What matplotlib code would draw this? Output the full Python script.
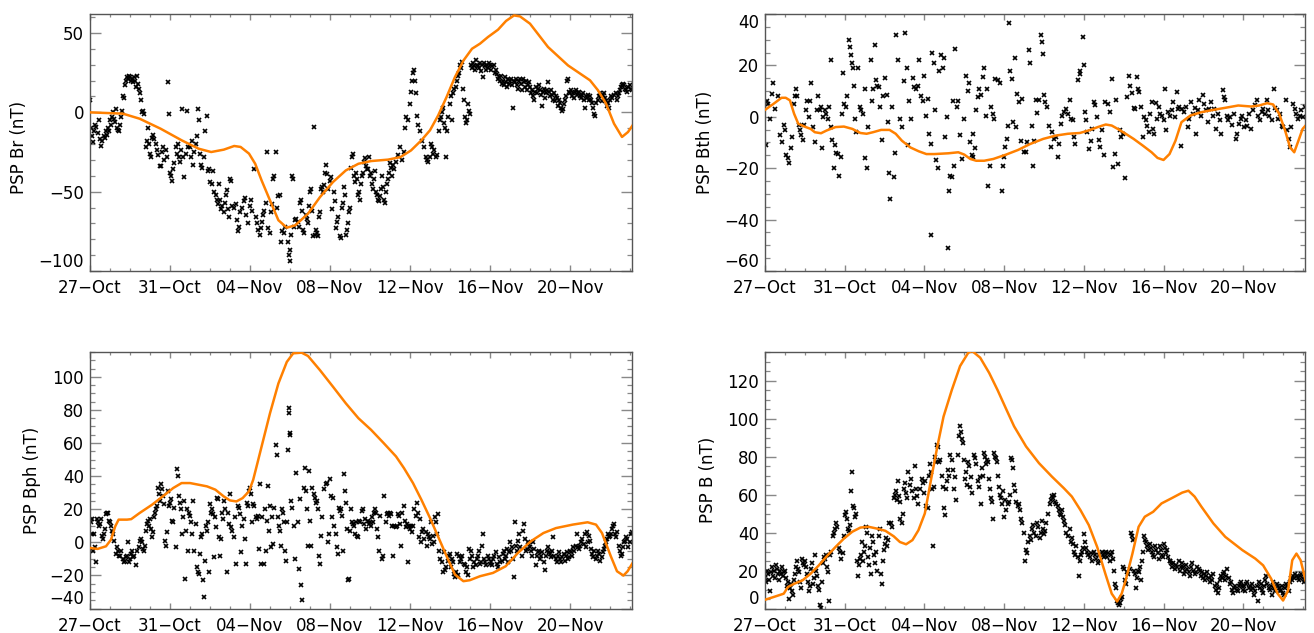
import matplotlib
matplotlib.use("Agg")
import matplotlib.pyplot as plt
from matplotlib.ticker import MultipleLocator, FixedLocator

# ---------------- data (days since 27-Oct 00:00) ----------------
xtick_days = [0, 4, 8, 12, 16, 20, 24]
xtick_labels = ["27\u2212Oct", "31\u2212Oct", "04\u2212Nov", "08\u2212Nov",
                "12\u2212Nov", "16\u2212Nov", "20\u2212Nov"]
x_range = (0.0, 27.1)

# ---- PSP Br ----
br_obs = [
    (0.02, 8), (0.05, -10), (0.1, -15), (0.15, -19), (0.2, -12), (0.25, -8), (0.3, -9), (0.4, -13),
    (0.45, -5), (0.5, -17), (0.55, -21), (0.6, -18), (0.7, -15), (0.75, -16), (0.8, -12), (0.85, -14),
    (0.9, -10), (0.95, -12), (1.0, -5), (1.05, -8), (1.1, -3), (1.15, 0), (1.2, -4), (1.25, -6),
    (1.3, 2), (1.35, -10), (1.4, -11), (1.45, -12), (1.5, -8), (1.55, -3), (1.6, 1), (1.65, 10),
    (1.7, 9), (1.75, 17), (1.8, 20), (1.85, 22), (1.9, 21), (1.95, 23), (2.0, 22), (2.05, 20),
    (2.1, 21), (2.15, 19), (2.2, 22), (2.25, 20), (2.3, 16), (2.35, 23), (2.4, 18), (2.45, 15),
    (2.5, 12), (2.55, 8), (2.6, 0), (2.65, 1), (2.7, -1),
    (2.8, -22), (2.85, -18), (2.9, -10), (2.95, -20), (3.0, -26), (3.05, -28), (3.1, -16), (3.15, -14),
    (3.2, -17), (3.3, -20), (3.35, -24), (3.4, -27), (3.5, -34), (3.55, -34), (3.6, -25), (3.65, -22),
    (3.7, -30), (3.8, -24), (3.85, -28), (3.9, 19), (3.95, -1), (4.0, -38), (4.05, -40), (4.1, -43),
    (4.15, -36), (4.2, -32), (4.3, -22), (4.35, -26), (4.4, -20), (4.45, -28), (4.5, -31), (4.55, -24),
    (4.6, 2), (4.65, -28), (4.7, -41), (4.8, -26), (4.85, 1), (4.9, -22),
    (5.0, -22), (5.05, -28), (5.1, -18), (5.15, -33), (5.2, -25), (5.3, -20), (5.35, -15), (5.4, 2),
    (5.45, -5), (5.5, -26), (5.55, -33), (5.6, -35), (5.7, -28), (5.75, -12), (5.85, -2), (5.9, -37),
    (5.95, -36), (6.0, -44), (6.1, -45), (6.15, -37),
    (6.2, -50), (6.3, -52), (6.35, -55), (6.4, -58), (6.45, -45), (6.5, -55), (6.55, -61), (6.6, -59),
    (6.7, -63), (6.75, -57), (6.8, -52), (6.85, -49), (6.9, -61), (6.95, -66), (7.0, -42), (7.05, -43),
    (7.1, -59), (7.2, -60), (7.3, -58), (7.35, -68), (7.4, -75), (7.45, -72), (7.5, -63),
    (7.6, -60), (7.7, -56), (7.75, -54), (7.8, -65), (7.9, -70), (8.0, -59), (8.05, -55), (8.1, -62),
    (8.2, -36), (8.3, -66), (8.35, -70), (8.4, -74), (8.5, -77), (8.55, -73), (8.6, -69), (8.65, -65),
    (8.7, -62), (8.8, -57), (8.85, -25), (8.9, -73), (9.0, -76), (9.05, -63), (9.1, -58), (9.15, -42),
    (9.2, -40), (9.3, -25), (9.35, -60), (9.4, -53), (9.5, -52), (9.55, -82), (9.6, -75), (9.7, -76),
    (9.75, -72), (9.9, -82), (9.95, -90), (10.0, -94), (10.02, -87), (10.05, -77),
    (10.1, -40), (10.15, -42), (10.2, -72), (10.25, -68), (10.3, -67), (10.4, -69), (10.45, -72),
    (10.5, -57), (10.55, -55), (10.6, -62), (10.65, -74), (10.7, -76), (10.8, -65), (10.85, -67),
    (10.9, -70), (10.95, -59), (11.0, -50), (11.05, -48), (11.1, -62), (11.15, -78), (11.2, -9),
    (11.25, -77), (11.3, -74), (11.35, -76), (11.4, -78), (11.45, -66), (11.5, -63), (11.55, -48),
    (11.6, -47), (11.65, -50), (11.7, -46), (11.75, -38), (11.8, -33), (11.85, -39), (11.9, -48),
    (12.0, -43), (12.05, -41), (12.1, -61), (12.2, -50), (12.25, -56), (12.3, -73), (12.35, -69),
    (12.4, -66), (12.5, -78), (12.55, -79), (12.6, -60), (12.65, -57), (12.7, -47), (12.75, -52),
    (12.8, -77), (12.85, -74), (12.9, -70), (12.95, -63), (13.0, -60),
    (13.05, -35), (13.1, -28), (13.15, -26), (13.2, -40), (13.25, -44), (13.3, -38), (13.35, -42),
    (13.4, -52), (13.45, -50), (13.5, -55), (13.55, -45), (13.6, -40), (13.65, -38), (13.7, -31),
    (13.75, -29), (13.8, -34), (13.85, -36), (13.9, -36), (13.95, -28), (14.0, -40),
    (14.05, -38), (14.1, -45), (14.15, -48), (14.2, -42), (14.25, -37), (14.3, -50), (14.35, -52),
    (14.4, -55), (14.45, -56), (14.5, -53), (14.55, -48), (14.6, -40), (14.65, -47), (14.7, -55),
    (14.75, -57), (14.8, -50), (14.85, -45), (14.9, -42), (14.95, -38), (15.0, -32),
    (15.05, -35), (15.1, -40), (15.15, -33), (15.2, -36), (15.3, -31), (15.4, -27), (15.5, -22),
    (15.6, -30), (15.7, -25), (15.75, -10), (15.8, -3), (15.9, -5), (16.0, 5), (16.05, 13),
    (16.1, 20), (16.15, 25), (16.2, 27), (16.25, 20), (16.3, 12),
    (16.35, -2), (16.4, -8), (16.5, -12), (16.6, -18), (16.7, -22), (16.8, -28), (16.85, -30),
    (16.9, -31), (17.0, -28), (17.05, -20), (17.1, -22), (17.15, -26), (17.2, -24), (17.3, -28),
    (17.35, -27), (17.45, -12), (17.5, -5), (17.55, -3), (17.6, 0), (17.65, 3), (17.7, -7),
    (17.75, -10), (17.8, -28), (17.85, -12), (17.9, -3),
    (18.0, 5), (18.05, 10), (18.1, -5), (18.15, 12), (18.2, 15), (18.3, 16), (18.35, 20), (18.4, 23),
    (18.45, 25), (18.5, 30), (18.55, 28), (18.6, 32), (18.65, 15), (18.7, 8), (18.75, -3), (18.8, -7),
    (18.85, -5), (18.9, 5), (18.95, 1), (19.0, -1),
    (19.05, 30), (19.1, 28), (19.15, 31), (19.2, 29), (19.25, 27), (19.3, 33), (19.35, 30), (19.4, 29),
    (19.45, 28), (19.5, 31), (19.55, 26), (19.6, 30), (19.65, 22), (19.7, 31), (19.75, 29), (19.8, 27),
    (19.85, 30), (19.9, 28), (19.95, 31), (20.0, 30), (20.05, 27), (20.1, 29), (20.2, 30), (20.25, 25),
    (20.3, 27), (20.35, 24), (20.4, 21), (20.45, 22), (20.5, 20), (20.55, 23), (20.6, 18), (20.65, 20),
    (20.7, 17), (20.75, 22), (20.8, 19), (20.85, 16), (20.9, 21), (20.95, 18), (21.0, 20), (21.05, 21),
    (21.1, 17), (21.15, 3), (21.2, 20), (21.25, 19), (21.3, 21), (21.35, 17), (21.4, 15), (21.45, 20),
    (21.5, 21), (21.55, 18), (21.6, 14), (21.65, 21), (21.7, 19), (21.75, 16), (21.8, 20), (21.85, 14),
    (21.9, 17), (21.95, 19),
    (22.0, 16), (22.05, 12), (22.1, 14), (22.15, 10), (22.2, 8), (22.25, 13), (22.3, 16), (22.35, 12),
    (22.4, 15), (22.45, 17), (22.5, 14), (22.55, 11), (22.6, 4), (22.65, 13), (22.7, 15), (22.75, 9),
    (22.8, 12), (22.85, 14), (22.9, 19), (22.95, 13), (23.0, 10), (23.05, 14), (23.1, 11), (23.15, 8),
    (23.2, 12), (23.25, 7), (23.3, 10), (23.35, 9), (23.4, 4), (23.45, 8), (23.5, 6), (23.55, 3),
    (23.6, 1), (23.65, 2), (23.7, 5), (23.75, 8), (23.8, 10), (23.85, 20), (23.9, 21), (23.95, 13),
    (24.0, 12), (24.05, 14), (24.1, 10), (24.15, 12), (24.2, 9), (24.25, 13), (24.3, 14), (24.35, 11),
    (24.4, 12), (24.45, 13), (24.5, 10), (24.55, 9), (24.6, 11), (24.65, 12), (24.7, 8), (24.75, 3),
    (24.8, 10), (24.85, 9), (24.9, 11), (24.95, 8), (25.0, 10), (25.05, 8), (25.1, 6), (25.15, 3),
    (25.2, -1), (25.25, -2), (25.3, 6), (25.4, 8), (25.45, 10), (25.5, 12), (25.55, 10), (25.6, 7),
    (25.65, 11), (25.7, 12), (25.75, 9), (25.8, 7), (25.85, 4), (25.9, 6), (25.95, 3), (26.0, 8),
    (26.05, 10), (26.1, 9), (26.2, 11), (26.3, 12), (26.35, 8), (26.4, 10), (26.45, 12), (26.5, 14),
    (26.55, 16), (26.6, 17), (26.65, 18), (26.7, 17), (26.75, 15), (26.8, 14), (26.85, 13), (26.9, 16),
    (27.0, 17), (27.05, 15), (27.1, 14),
]
br_model = [
    (0.0, 0), (1.64, -0.8), (2.48, -4), (3.53, -10.3), (4.58, -17.6), (5.43, -22.9), (6.06, -25),
    (6.69, -23.5), (7.21, -21.2), (7.53, -21.8), (7.95, -26), (8.26, -32.4), (8.58, -42.9),
    (9.0, -55.5), (9.42, -68), (9.84, -72.7), (10.26, -71.2), (10.9, -63.9), (11.5, -53.4),
    (12.15, -43.9), (12.79, -36.6), (13.42, -32.4), (14.05, -30.7), (14.9, -29.8), (15.52, -28.2),
    (16.05, -24), (16.57, -17.6), (17.0, -11.3), (17.41, -1.9), (17.83, 9.7), (18.25, 22.3),
    (18.68, 32.8), (19.1, 40.1), (19.5, 43.3), (19.9, 47.5), (20.4, 52.1), (20.8, 57.6),
    (21.2, 61.1), (21.5, 60.5), (22.0, 55.9), (22.9, 41.2), (23.9, 29.6), (25.0, 20.2),
    (25.4, 13.9), (25.8, 5.5), (26.2, -7.1), (26.6, -15.5), (26.9, -12.4), (27.13, -8.2),
]

# ---- PSP Bth ----
bth_obs = [
    (0.04, -11), (0.1, 6), (0.17, 5), (0.25, -1), (0.33, 9), (0.42, 13), (0.52, 3), (0.63, 8),
    (0.73, -7), (0.83, -10), (0.94, -3), (1.0, -5), (1.04, -15), (1.15, -16), (1.21, -18), (1.29, -12),
    (1.35, -8), (1.46, 5), (1.5, 8), (1.56, 11), (1.63, 8), (1.71, -3), (1.77, -5), (1.83, -7),
    (1.92, -9), (1.98, -3), (2.04, 2.5), (2.13, 6), (2.19, 0), (2.25, 6), (2.33, 13), (2.4, -4),
    (2.5, -10), (2.6, 2.5), (2.67, 8), (2.75, 2.5), (2.81, 4), (2.88, -12), (2.92, 0), (3.02, 2.5),
    (3.08, 1), (3.17, -1), (3.23, 4), (3.29, 22), (3.33, -4), (3.38, -9), (3.44, -20), (3.5, -11),
    (3.58, -14), (3.65, -14.5), (3.71, -23), (3.79, -15.5), (3.85, 1), (3.92, 17), (3.96, 5),
    (4.06, 4), (4.13, 8), (4.21, 30), (4.27, 27), (4.33, 24), (4.38, 21), (4.42, 19), (4.48, 12),
    (4.54, -1), (4.58, -6), (4.67, 19), (4.75, 4), (4.83, 2.5), (4.9, 1), (5.0, 11), (5.04, -16),
    (5.1, -20), (5.15, -4), (5.31, 22), (5.38, 6), (5.42, 11), (5.52, 28), (5.58, 14.5), (5.63, 12),
    (5.73, 11.6), (5.79, 4), (5.88, -9), (5.94, 8), (6.04, 15), (6.1, 8.6), (6.17, -2), (6.23, -22),
    (6.29, -32), (6.35, 4), (6.46, -23.6), (6.52, -14), (6.58, 32), (6.67, 22), (6.77, -1),
    (6.88, -4), (6.96, 14), (7.04, 32.5), (7.13, 19), (7.19, -11), (7.25, 6), (7.33, -1), (7.42, 15),
    (7.5, 11.6), (7.58, 11), (7.67, 12), (7.75, 22), (7.83, 8), (7.92, 6), (8.0, 16), (8.08, 0.5),
    (8.17, 7), (8.25, -6.6), (8.31, -10.5), (8.33, -46), (8.4, 25), (8.46, 21), (8.54, 2.5),
    (8.6, -17), (8.69, -20), (8.75, 18), (8.85, 24), (8.92, 19), (8.96, 23), (9.04, -8), (9.13, 0),
    (9.17, -51), (9.23, -29), (9.27, -23), (9.38, -23.6), (9.42, 6), (9.5, -19), (9.54, 26.5),
    (9.63, 4), (9.69, 6), (9.79, -7), (9.9, -16.4), (10.0, -1), (10.1, 16), (10.17, 10), (10.25, 13),
    (10.31, -10), (10.38, -15), (10.42, -6.6), (10.46, -15.8), (10.52, -12), (10.58, 2.5),
    (10.67, 7.7), (10.73, 11), (10.83, 8.3), (10.94, 15.5), (11.0, 18.8), (11.08, 0.5), (11.15, 11),
    (11.21, -27), (11.29, -19), (11.35, 3.8), (11.42, 1.2), (11.5, -1), (11.56, 14.9), (11.67, 14.5),
    (11.77, 13), (11.88, -29), (11.92, -19), (11.98, -15.8), (12.04, -11.6), (12.13, -8.6),
    (12.19, -3.4), (12.25, 36.6), (12.29, 18), (12.4, 14.9), (12.46, -2), (12.54, 23), (12.6, -4),
    (12.67, 9), (12.75, 5.7), (12.83, -9.3), (12.92, 7), (13.02, -13.8), (13.08, -13.8),
    (13.17, -9.9), (13.23, 26), (13.29, 21), (13.38, -3.4), (13.44, -19), (13.5, -9.3), (13.58, 6.6),
    (13.67, 1.4), (13.75, 6.4), (13.85, 31.8), (13.92, 29), (13.96, 24.6), (14.0, 8.3), (14.06, 5.7),
    (14.17, 3.8), (14.27, -3.4), (14.33, -11.9), (14.42, -6), (14.5, -8.6), (14.58, -7.9),
    (14.69, -15.8), (14.75, -10.6), (14.83, -2.7), (14.92, 0.5), (15.0, 1.8), (15.1, 3.1),
    (15.21, 1.2), (15.31, 6.4), (15.38, -0.8), (15.46, -1.4), (15.52, -8), (15.58, -10.6),
    (15.73, 14.2), (15.79, 16.8), (15.83, 18), (15.94, 31), (16.0, 20), (16.04, 1.8), (16.1, -1.4),
    (16.17, -6), (16.25, -12.5), (16.35, -9.3), (16.42, -4.7), (16.5, 5.7), (16.58, 4.4), (16.67, 0),
    (16.75, -9), (16.83, -11.9), (16.92, -5.3), (17.0, -15), (17.08, 5.7), (17.19, 5), (17.29, 1.8),
    (17.4, 14.6), (17.46, -19.7), (17.54, -14.5), (17.63, 6.4), (17.71, -18.4), (17.81, -5.3),
    (17.88, -7.9), (17.96, -6.6), (18.08, -24), (18.17, 7.7), (18.25, 16), (18.33, 12), (18.42, 9.2),
    (18.5, 3.5), (18.58, 3), (18.65, 15.5), (18.71, 11), (18.79, 9.6), (18.85, 3.8), (18.96, -8),
    (19.02, 0), (19.1, -1.4), (19.17, -3.4), (19.27, -6), (19.33, 1.2), (19.42, 5.7), (19.48, -4.7),
    (19.54, -6.6), (19.63, 5.3), (19.69, -0.8), (19.75, 3.8), (19.83, 1.2), (19.9, 0.5), (20.0, -1.4),
    (20.06, 11), (20.13, -5.3), (20.21, 1.8), (20.31, 0.5), (20.42, 2.5), (20.5, 5.7), (20.58, 0),
    (20.67, 9.6), (20.73, 3.1), (20.79, 3.8), (20.88, -11.5), (20.94, 3.1), (21.04, 1.8), (21.15, 4),
    (21.21, -4), (21.29, -0.8), (21.38, 5.7), (21.46, 1.2), (21.56, 3.5), (21.63, -6.6), (21.71, 2.5),
    (21.79, 6.4), (21.88, 0.5), (21.96, 8.3), (22.04, 5), (22.13, 2.5), (22.21, -2), (22.29, 3),
    (22.4, 5.7), (22.46, 0.5), (22.54, 3.1), (22.63, -4.7), (22.71, 1.2), (22.81, -1.4), (22.88, -6.6),
    (22.96, 10.6), (23.02, 7.7), (23.08, 6.4), (23.17, 0.5), (23.25, -1.4), (23.33, 0), (23.44, -3),
    (23.54, 1.2), (23.65, -8.6), (23.71, -6.6), (23.79, -2.7), (23.88, -0.8), (23.96, 0.5),
    (24.04, -4), (24.13, -1.4), (24.21, -3.4), (24.29, 1.2), (24.38, -4.7), (24.48, 2.5), (24.58, 4.4),
    (24.69, 6.4), (24.75, 0.5), (24.83, -1.4), (24.92, 1.8), (25.0, 3.1), (25.1, 1.2), (25.17, 6.4),
    (25.25, 2.5), (25.31, 0.5), (25.42, -1.4), (25.52, 11), (25.58, 3.5), (25.67, 2.5), (25.75, -0.8),
    (25.83, 1.2), (25.94, -3.4), (26.0, -4), (26.15, 6.4), (26.21, -5.3), (26.29, -8.6),
    (26.35, -11.9), (26.42, -4), (26.5, 5), (26.58, 3.1), (26.67, 1.2), (26.77, -0.8), (26.83, 0.5),
    (26.92, 2.5), (27.0, 0), (27.08, 3.8),
]
bth_model = [
    (0.0, 2.7), (0.42, 5), (0.83, 7.4), (1.04, 7.4), (1.25, 6.4), (1.46, 1.2), (1.67, -2.7),
    (1.98, -3.8), (2.29, -4.7), (2.5, -6), (2.81, -6.4), (3.1, -5.3), (3.54, -4), (3.96, -3.8),
    (4.38, -4.7), (4.79, -6.3), (5.1, -6.6), (5.42, -6), (5.83, -5.1), (6.25, -5.1), (6.56, -6.6),
    (6.87, -9.3), (7.29, -11.9), (7.71, -13.4), (8.1, -14.5), (8.5, -14.5), (9.2, -14.2),
    (9.7, -13.8), (10.0, -14.7), (10.3, -16.4), (10.6, -17.1), (11.0, -17.1), (11.46, -16.4),
    (12.1, -14.7), (12.7, -12.9), (13.3, -10.6), (13.96, -8.6), (14.6, -7.3), (15.2, -6.6),
    (15.8, -6.3), (16.25, -5.3), (16.7, -4), (17.1, -3), (17.4, -3.4), (17.7, -4.7), (18.1, -6.6),
    (18.5, -8.6), (18.96, -11.2), (19.4, -13.8), (19.7, -16), (20.0, -16.8), (20.3, -14.5),
    (20.6, -9.3), (20.9, -2.1), (21.35, 0.5), (21.9, 1.8), (22.5, 2.7), (23.1, 3.5), (23.75, 4.4),
    (24.4, 4), (24.8, 4.4), (25.2, 5.3), (25.5, 4.8), (25.8, 1.2), (26.1, -5.3), (26.35, -11.9),
    (26.56, -13.8), (26.77, -9.3), (26.98, -4.7), (27.13, -3.4),
]

# ---- PSP Bph ----
bph_obs = [
    (0.05, 12), (0.08, 14), (0.1, 5), (0.15, -5), (0.2, 5), (0.25, -3), (0.3, -12), (0.35, 14),
    (0.4, 12), (0.45, 10), (0.5, 11), (0.55, 14), (0.6, 4), (0.65, 2), (0.7, 5), (0.75, 8), (0.8, 17),
    (0.85, 18), (0.9, 18), (0.95, 13), (1.0, 12), (1.05, 10), (1.1, 7), (1.15, 5), (1.2, 1),
    (1.3, -7), (1.35, -3), (1.4, -5), (1.45, -8), (1.5, -8), (1.55, -5), (1.65, -10), (1.7, -12),
    (1.75, -11), (1.8, -9), (1.85, -8), (1.9, 0), (1.95, -12), (2.0, -10), (2.05, -7), (2.1, -5),
    (2.15, -9), (2.2, -8), (2.3, -14), (2.35, -5), (2.45, -3), (2.5, 1), (2.55, 2), (2.6, 0),
    (2.65, -4), (2.7, -5), (2.75, -2), (2.8, 7), (2.85, 11), (2.9, 13), (2.95, 10), (3.0, 14),
    (3.05, 8), (3.1, 3), (3.15, 6), (3.2, 15), (3.25, 18), (3.3, 20), (3.35, 22), (3.4, 33),
    (3.45, 29), (3.5, 25), (3.55, 35), (3.6, 32), (3.65, 28), (3.7, 23), (3.75, 1), (3.8, -2),
    (3.85, 6), (3.9, 31), (3.95, 22), (4.0, 24), (4.05, 26), (4.1, 13), (4.15, 12), (4.2, 21),
    (4.3, -3), (4.35, 44), (4.4, 40), (4.45, 28), (4.5, 24), (4.55, 20), (4.6, 5), (4.65, 15),
    (4.7, 25), (4.75, -22), (4.8, 7), (4.85, 20), (4.9, -5), (4.95, 18), (5.0, 16), (5.05, 12),
    (5.1, 5), (5.15, 25), (5.2, -5), (5.3, 11), (5.35, -15), (5.4, -18), (5.45, -19), (5.5, -7),
    (5.55, 3), (5.6, 5), (5.65, -23), (5.7, -33), (5.75, -11), (5.8, 10), (5.85, 7), (5.9, 12),
    (5.95, -18), (6.0, 23), (6.05, 18), (6.1, 20), (6.15, 17), (6.2, -9), (6.25, 15), (6.3, 9),
    (6.35, 27), (6.4, 26), (6.45, 3), (6.5, -8), (6.55, 2), (6.6, 18), (6.65, 14), (6.7, 25),
    (6.75, 20), (6.85, -18), (6.9, 18), (6.95, 11), (7.0, 29), (7.05, 9), (7.1, 7), (7.2, 3),
    (7.25, 15), (7.3, -13), (7.4, 22), (7.45, 21), (7.5, 17), (7.55, -6), (7.6, 10), (7.7, 14),
    (7.75, 2), (7.8, -13), (7.85, 24), (7.9, 22), (7.95, 31), (8.0, 33), (8.05, 29), (8.1, 12),
    (8.15, 23), (8.2, 22), (8.3, 15), (8.35, 14), (8.4, 16), (8.45, -4), (8.5, 35), (8.55, -13),
    (8.6, 15), (8.7, -13), (8.75, 20), (8.8, -5), (8.85, 13), (8.9, 34), (8.95, 7), (9.0, 22),
    (9.05, -3), (9.1, 15), (9.15, -1), (9.2, 21), (9.3, 59), (9.35, 53), (9.4, 15), (9.45, 10),
    (9.5, 7), (9.55, -2), (9.6, 20), (9.65, 18), (9.7, 12), (9.75, -5), (9.8, -11), (9.85, 12),
    (9.9, 56), (9.95, 78), (9.97, 81), (10.0, 65), (10.02, 66), (10.05, 25), (10.1, 21), (10.2, 10),
    (10.25, -10), (10.3, 42), (10.4, 12), (10.45, -16), (10.5, 26), (10.55, -26), (10.6, -35),
    (10.7, 33), (10.75, 45), (10.8, 31), (10.85, 20), (10.9, -2), (10.95, 43), (11.0, 13),
    (11.05, -2), (11.1, 33), (11.2, 29), (11.25, 27), (11.3, 24), (11.35, 25), (11.4, 20),
    (11.45, -8), (11.5, -13), (11.55, 4), (11.6, 15), (11.7, 32), (11.8, 35), (11.85, 36), (11.9, 0),
    (11.95, 5), (12.0, 38), (12.05, 28), (12.1, 15), (12.15, 27), (12.2, 10), (12.3, 5), (12.35, -3),
    (12.4, -7), (12.45, 21), (12.5, 19), (12.55, 20), (12.6, 16), (12.65, -5), (12.7, 41),
    (12.75, 31), (12.8, 24), (12.85, 8), (12.9, -23), (12.95, -22), (13.0, 7), (13.05, 20),
    (13.1, 12), (13.15, 11), (13.2, 10), (13.25, 5), (13.3, 12), (13.35, 4), (13.4, 3), (13.45, 13),
    (13.5, 12), (13.6, 19), (13.65, 20), (13.7, 11), (13.75, 14), (13.8, 8), (13.9, 13), (13.95, 11),
    (14.0, 12), (14.05, 10), (14.1, 15), (14.15, 12), (14.2, 18), (14.25, 20), (14.3, 18), (14.35, 8),
    (14.4, 3), (14.45, -5), (14.5, 16), (14.6, -10), (14.65, -8), (14.7, 28), (14.8, 12), (14.85, 17),
    (14.9, 18), (14.95, 16), (15.0, 18), (15.05, 17), (15.1, 10), (15.15, -8), (15.2, 10), (15.3, 9),
    (15.35, 10), (15.4, 17), (15.45, 16), (15.5, 11), (15.55, -2), (15.6, 18), (15.7, 22),
    (15.75, 13), (15.8, 9), (15.85, 11), (15.9, -12), (15.95, 10), (16.0, 8), (16.05, 10), (16.1, 6),
    (16.15, 10), (16.2, 20), (16.3, 16), (16.35, 24), (16.4, 18), (16.45, 3), (16.5, 14), (16.55, 0),
    (16.6, 6), (16.65, 8), (16.7, 2), (16.8, 6), (16.85, -2), (16.9, 5), (16.95, 3), (17.0, 2),
    (17.05, 12), (17.1, -1), (17.15, 4), (17.2, 0), (17.25, 15), (17.3, 12), (17.35, 5), (17.4, 17),
    (17.45, -5), (17.5, -10), (17.6, -12), (17.65, -18), (17.7, -6), (17.75, -17), (17.8, -15),
    (17.9, -11), (17.95, -8), (18.0, -7), (18.05, -15), (18.1, -10), (18.15, -12), (18.2, -19),
    (18.25, -21), (18.3, -18), (18.35, -7), (18.4, -20), (18.45, -8), (18.5, -12), (18.55, -10),
    (18.6, -8), (18.7, -13), (18.75, -14), (18.8, -18), (18.85, -15), (18.9, -20), (18.95, -4),
    (19.0, -10), (19.05, -5), (19.1, -8), (19.15, -15), (19.2, -12), (19.3, -14), (19.35, -10),
    (19.4, -8), (19.45, -5), (19.5, -13), (19.55, -12), (19.6, -2), (19.65, 5), (19.7, -10),
    (19.75, -12), (19.8, -14), (19.9, -8), (19.95, -10), (20.0, -13), (20.05, -12), (20.1, -14),
    (20.15, -10), (20.2, -8), (20.3, -6), (20.35, -13), (20.4, -15), (20.45, -9), (20.5, -12),
    (20.6, -11), (20.65, -7), (20.7, -5), (20.75, -10), (20.8, -8), (20.85, -4), (20.9, -12),
    (20.95, -6), (21.0, 0), (21.05, -5), (21.1, -3), (21.15, -10), (21.2, -21), (21.25, 12),
    (21.3, -2), (21.35, -5), (21.4, 1), (21.45, 5), (21.5, -3), (21.6, -8), (21.65, 7), (21.7, 11),
    (21.75, 2), (21.8, -5), (21.85, -4), (21.9, 0), (21.95, -1), (22.0, -3), (22.05, -5), (22.1, -8),
    (22.15, 0), (22.2, -4), (22.3, -14), (22.35, -8), (22.4, -6), (22.45, -5), (22.5, -10),
    (22.55, -8), (22.6, -6), (22.7, -12), (22.75, -17), (22.8, -8), (22.85, -5), (22.9, -3),
    (22.95, -6), (23.0, -7), (23.05, -9), (23.1, -5), (23.15, 3), (23.2, -8), (23.3, -10),
    (23.35, -12), (23.4, -8), (23.45, -6), (23.5, -10), (23.55, -12), (23.6, -9), (23.7, -7),
    (23.75, -11), (23.8, -8), (23.85, -6), (23.9, -10), (23.95, -9), (24.0, -5), (24.05, -6),
    (24.1, -8), (24.15, -3), (24.2, -5), (24.3, -2), (24.35, 5), (24.4, -3), (24.45, -4), (24.5, -2),
    (24.55, 0), (24.6, 2), (24.7, -1), (24.75, 5), (24.8, -3), (24.85, 6), (24.9, 0), (24.95, 4),
    (25.0, 1), (25.05, -4), (25.1, -7), (25.15, -9), (25.2, -5), (25.3, -10), (25.35, -8), (25.4, -5),
    (25.45, -7), (25.5, -11), (25.6, -9), (25.65, -6), (25.7, -4), (25.75, -2), (25.8, 0), (25.85, 2),
    (25.9, 5), (25.95, 3), (26.0, 4), (26.05, 5), (26.1, 8), (26.15, 10), (26.2, 11), (26.25, 5),
    (26.3, 3), (26.35, 6), (26.45, -2), (26.5, -5), (26.55, -8), (26.6, -7), (26.65, -3), (26.7, 0),
    (26.75, 1), (26.8, 3), (26.85, 2), (26.9, -3), (27.0, 0), (27.05, 5), (27.1, 6),
]
bph_model = [
    (0.0, -3.4), (0.38, -4), (0.8, -2.4), (1.05, 1.6), (1.26, 9.6), (1.43, 13.7), (1.85, 13.7),
    (2.06, 14), (2.48, 17.7), (3.1, 22.7), (3.74, 28.7), (4.16, 32.8), (4.58, 35.8), (5.0, 35.8),
    (5.43, 34.8), (5.85, 33.8), (6.27, 31.8), (6.69, 27.7), (7.0, 25.3), (7.32, 24.7), (7.63, 26.7),
    (7.95, 30.8), (8.16, 37.8), (8.37, 47.8), (8.58, 57.9), (9.0, 78), (9.42, 96), (9.84, 109),
    (10.16, 114.2), (10.58, 114.6), (10.9, 112.6), (11.5, 104), (12.15, 94), (12.79, 84),
    (13.42, 75), (14.05, 68), (14.68, 60), (15.3, 51.9), (15.7, 44.8), (16.15, 35.8), (16.57, 25.7),
    (17.0, 14.7), (17.4, 3.6), (17.83, -8.4), (18.25, -19.5), (18.67, -23.5), (18.99, -22.9),
    (19.5, -20.5), (20.15, -18.5), (20.78, -14.5), (21.4, -6.4), (22.04, 0.6), (22.67, 5.6),
    (23.3, 8.6), (24.14, 10.7), (24.88, 12.1), (25.3, 10.7), (25.6, 5.6), (26.04, -8.4),
    (26.35, -17.5), (26.67, -20.1), (26.88, -17.5), (27.13, -12.5),
]

# ---- PSP |B| ----
b_obs = [
    (0.02, 16), (0.05, 14), (0.1, 20), (0.15, 18), (0.2, 15), (0.25, 9), (0.3, 19), (0.35, 22),
    (0.4, 17), (0.45, 20), (0.5, 16), (0.55, 23), (0.6, 21), (0.65, 18), (0.7, 15), (0.75, 20),
    (0.8, 18), (0.85, 22), (0.9, 17), (0.95, 19), (1.0, 20), (1.05, 16), (1.1, 12), (1.15, 14),
    (1.2, 5), (1.25, 11), (1.3, 13), (1.35, 9), (1.4, 7), (1.45, 15), (1.5, 18), (1.55, 22),
    (1.6, 25), (1.65, 21), (1.7, 19), (1.75, 14), (1.8, 11), (1.85, 26), (1.9, 24), (1.95, 23),
    (2.0, 25), (2.05, 22), (2.1, 18), (2.15, 14), (2.2, 9), (2.25, 12), (2.3, 21), (2.35, 24),
    (2.4, 13), (2.45, 16), (2.5, 28), (2.55, 20), (2.6, 17), (2.65, 12), (2.7, 10), (2.75, 2),
    (2.8, 0.5), (2.85, 14), (2.9, 24), (2.95, 27), (3.0, 26), (3.05, 28), (3.1, 22), (3.15, 19),
    (3.2, 4), (3.25, 28), (3.3, 30), (3.4, 38), (3.45, 40), (3.5, 42), (3.55, 45), (3.6, 43),
    (3.7, 32), (3.75, 30), (3.8, 26), (3.9, 29), (3.95, 38), (4.0, 49), (4.05, 51), (4.1, 47),
    (4.15, 42), (4.2, 41), (4.25, 44), (4.3, 62), (4.35, 72), (4.4, 54), (4.45, 53), (4.5, 48),
    (4.55, 50), (4.6, 25), (4.65, 17), (4.7, 23), (4.75, 26), (4.8, 28), (4.85, 35), (4.9, 25),
    (4.95, 30), (5.0, 33), (5.05, 43), (5.1, 40), (5.15, 27), (5.2, 23), (5.25, 32), (5.3, 18),
    (5.35, 38), (5.4, 35), (5.45, 28), (5.5, 24), (5.55, 30), (5.6, 20), (5.7, 38), (5.75, 42),
    (5.8, 18), (5.85, 13), (5.9, 25), (5.95, 31), (6.0, 34), (6.05, 37), (6.1, 33), (6.15, 36),
    (6.2, 45), (6.3, 45), (6.35, 43), (6.45, 58), (6.5, 60), (6.55, 62), (6.6, 57), (6.65, 67),
    (6.7, 59), (6.75, 56), (6.8, 47), (6.9, 45), (6.95, 50), (7.0, 63), (7.05, 66), (7.1, 61),
    (7.15, 58), (7.2, 72), (7.3, 65), (7.35, 68), (7.4, 62), (7.5, 58), (7.55, 75), (7.6, 63),
    (7.65, 59), (7.7, 55), (7.8, 63), (7.9, 68), (7.95, 66), (8.0, 61), (8.05, 67), (8.1, 54),
    (8.2, 53), (8.25, 70), (8.3, 76), (8.35, 72), (8.4, 63), (8.45, 33), (8.5, 64), (8.55, 80),
    (8.6, 77), (8.65, 86), (8.7, 85), (8.75, 77), (8.8, 78), (8.9, 70), (8.95, 64), (9.0, 53),
    (9.05, 49), (9.1, 63), (9.15, 67), (9.2, 73), (9.25, 70), (9.3, 81), (9.4, 78), (9.45, 73),
    (9.5, 63), (9.55, 69), (9.6, 57), (9.7, 81), (9.75, 91), (9.8, 96), (9.85, 93), (9.9, 89),
    (9.95, 87), (10.0, 78), (10.05, 68), (10.1, 72), (10.15, 65), (10.2, 77), (10.25, 75),
    (10.3, 64), (10.35, 69), (10.4, 61), (10.5, 81), (10.55, 79), (10.6, 76), (10.7, 67), (10.75, 64),
    (10.8, 69), (10.85, 55), (10.9, 74), (10.95, 70), (11.0, 82), (11.05, 80), (11.1, 76),
    (11.15, 78), (11.2, 77), (11.25, 68), (11.3, 63), (11.35, 58), (11.4, 56), (11.45, 47),
    (11.5, 82), (11.55, 80), (11.6, 79), (11.65, 77), (11.7, 70), (11.75, 64), (11.8, 60),
    (11.85, 58), (11.9, 55), (11.95, 62), (12.0, 48), (12.05, 57), (12.1, 52), (12.2, 55),
    (12.25, 56), (12.3, 60), (12.35, 79), (12.4, 78), (12.45, 74), (12.5, 65), (12.55, 62),
    (12.6, 56), (12.7, 54), (12.75, 55), (12.8, 52), (12.85, 47), (12.9, 45), (13.0, 40),
    (13.05, 25), (13.1, 31), (13.15, 29), (13.2, 35), (13.3, 38), (13.35, 36), (13.4, 42),
    (13.45, 44), (13.5, 40), (13.6, 38), (13.65, 45), (13.7, 43), (13.8, 37), (13.85, 40),
    (13.9, 46), (13.95, 42), (14.0, 39), (14.05, 41), (14.1, 45), (14.2, 50), (14.3, 55), (14.35, 57),
    (14.4, 59), (14.45, 58), (14.5, 60), (14.55, 56), (14.6, 55), (14.7, 54), (14.75, 52), (14.8, 50),
    (14.85, 49), (14.9, 52), (14.95, 48), (15.0, 46), (15.05, 44), (15.1, 40), (15.2, 38), (15.3, 42),
    (15.35, 35), (15.4, 37), (15.45, 34), (15.5, 30), (15.55, 28), (15.6, 33), (15.7, 27),
    (15.75, 17), (15.8, 25), (15.85, 28), (15.9, 30), (15.95, 32), (16.0, 39), (16.05, 35),
    (16.1, 32), (16.15, 30), (16.2, 28), (16.3, 27), (16.35, 29), (16.4, 25), (16.5, 30), (16.55, 28),
    (16.6, 26), (16.7, 24), (16.75, 28), (16.8, 25), (16.9, 30), (16.95, 28), (17.0, 27), (17.05, 29),
    (17.1, 30), (17.15, 27), (17.2, 29), (17.3, 25), (17.35, 28), (17.4, 30), (17.45, 26), (17.5, 20),
    (17.55, 13), (17.6, 11), (17.65, 4), (17.7, 3), (17.75, 2), (17.8, 3), (17.85, 5), (17.9, 6),
    (17.95, 22), (18.0, 21), (18.05, 15), (18.1, 13), (18.15, 19), (18.2, 18), (18.3, 21), (18.35, 40),
    (18.4, 38), (18.45, 36), (18.5, 20), (18.55, 18), (18.6, 11), (18.65, 16), (18.7, 20),
    (18.75, 19), (18.8, 22), (18.85, 15), (18.9, 25), (18.95, 30), (19.0, 38), (19.05, 36),
    (19.1, 35), (19.15, 33), (19.2, 31), (19.3, 34), (19.35, 32), (19.4, 30), (19.45, 28), (19.5, 27),
    (19.55, 33), (19.6, 31), (19.7, 29), (19.75, 26), (19.8, 33), (19.85, 31), (19.9, 28),
    (19.95, 27), (20.0, 34), (20.05, 32), (20.1, 29), (20.15, 31), (20.2, 27), (20.3, 25),
    (20.35, 25), (20.4, 24), (20.45, 22), (20.5, 24), (20.6, 21), (20.65, 23), (20.7, 22), (20.8, 25),
    (20.85, 20), (20.9, 22), (20.95, 24), (21.0, 22), (21.05, 18), (21.1, 20), (21.15, 23),
    (21.2, 21), (21.3, 19), (21.35, 17), (21.4, 22), (21.45, 24), (21.5, 20), (21.6, 18), (21.65, 19),
    (21.7, 22), (21.8, 21), (21.85, 20), (21.9, 17), (21.95, 19), (22.0, 16), (22.05, 18), (22.1, 15),
    (22.15, 17), (22.2, 19), (22.3, 16), (22.35, 14), (22.4, 17), (22.45, 15), (22.5, 18), (22.6, 12),
    (22.65, 10), (22.7, 13), (22.75, 8), (22.8, 11), (22.85, 15), (22.9, 17), (22.95, 16), (23.0, 18),
    (23.05, 19), (23.1, 15), (23.15, 17), (23.2, 21), (23.3, 16), (23.35, 13), (23.4, 14),
    (23.45, 10), (23.5, 8), (23.55, 11), (23.6, 12), (23.7, 10), (23.75, 9), (23.8, 12), (23.85, 13),
    (23.9, 14), (23.95, 12), (24.0, 10), (24.05, 12), (24.1, 9), (24.15, 13), (24.2, 14), (24.3, 11),
    (24.35, 12), (24.4, 10), (24.45, 13), (24.5, 11), (24.55, 7), (24.6, 9), (24.7, 12), (24.75, 4),
    (24.8, 14), (24.85, 11), (24.9, 13), (24.95, 10), (25.0, 8), (25.05, 12), (25.1, 15), (25.15, 17),
    (25.2, 13), (25.3, 11), (25.35, 10), (25.4, 12), (25.45, 7), (25.5, 14), (25.55, 11), (25.6, 9),
    (25.7, 13), (25.75, 12), (25.8, 11), (25.85, 9), (25.9, 10), (25.95, 12), (26.0, 8), (26.05, 7),
    (26.1, 11), (26.15, 13), (26.2, 12), (26.3, 9), (26.35, 14), (26.4, 16), (26.45, 15), (26.5, 17),
    (26.55, 16), (26.6, 18), (26.7, 17), (26.75, 16), (26.8, 15), (26.85, 17), (26.9, 18), (27.0, 16),
    (27.05, 14), (27.1, 15),
]
b_model = [
    (0.0, 4.6), (0.42, 6), (0.94, 7.8), (1.15, 11.3), (1.46, 13), (1.88, 14.8), (2.29, 18.3),
    (2.7, 22.7), (3.1, 27.5), (3.54, 32.4), (3.96, 36.8), (4.38, 40.4), (4.79, 42.6), (5.2, 43),
    (5.6, 42.1), (6.04, 40.9), (6.46, 38), (6.77, 35), (7.08, 33.8), (7.4, 36), (7.7, 41.2),
    (8.02, 50), (8.33, 67.7), (8.65, 85.3), (8.96, 101), (9.375, 115), (9.79, 127.6), (10.2, 134.6),
    (10.4, 135.5), (10.8, 132), (11.25, 124), (11.67, 115), (12.08, 105.5), (12.5, 95.9),
    (13.1, 85.3), (13.75, 76.5), (14.4, 69.4), (15.0, 63.3), (15.4, 58.9), (15.83, 51.8),
    (16.25, 43.9), (16.67, 32.4), (17.08, 18.3), (17.4, 7.8), (17.67, 3.7), (17.9, 7.8),
    (18.1, 14.8), (18.44, 28.9), (18.75, 43), (19.06, 48.3), (19.48, 50.9), (19.9, 55.3),
    (20.4, 58), (20.94, 61), (21.25, 62), (21.56, 58.9), (21.9, 53.6), (22.5, 44.8), (23.1, 37.7),
    (23.96, 30.7), (24.6, 26.3), (25.0, 22.7), (25.4, 15.7), (25.73, 7.8), (26.0, 4.2),
    (26.25, 9.5), (26.46, 25.4), (26.67, 28.9), (26.88, 25.4), (27.13, 14.8),
]

panels = [
    # obs, model, ylabel, ylim, major, minor, label_x, label_y
    (br_obs, br_model, "PSP Br (nT)", (-100, 62), 50, 10, -0.114, 0.48),
    (bth_obs, bth_model, "PSP Bth (nT)", (-60, 40), 20, 5, -0.094, 0.5),
    (bph_obs, bph_model, "PSP Bph (nT)", (-40, 115), 20, 5, -0.090, 0.5),
    (b_obs, b_model, "PSP B (nT)", (0, 135), 20, 5, -0.088, 0.5),
]

# ---------------- figure ----------------
W, H = 1314, 633
fig = plt.figure(figsize=(W / 100, H / 100), dpi=100)
plt.rcParams["font.family"] = ["DejaVu Sans"]

rects_px = [(90, 14, 632, 271), (765, 14, 1305, 271),
            (90, 352, 632, 608.5), (765, 352, 1305, 608.5)]

ORANGE = "#ff8000"
SPINE = "#555555"
TICK = "#888888"

for (obs, model, ylab, ylim, major, minor, lx, ly), (l, t, r, b) in zip(panels, rects_px):
    ax = fig.add_axes([l / W, 1 - b / H, (r - l) / W, (b - t) / H])
    od, ov = zip(*obs)
    md, mv = zip(*model)
    ax.plot(od, ov, linestyle="none", marker="x", ms=3.2, mew=1.2, color="black", zorder=2)
    ax.plot(md, mv, color=ORANGE, lw=1.8, zorder=3, solid_joinstyle="round")
    ax.set_xlim(*x_range)
    ax.set_ylim(*ylim)

    ax.xaxis.set_major_locator(FixedLocator(xtick_days))
    ax.set_xticklabels(xtick_labels)
    ax.xaxis.set_minor_locator(MultipleLocator(1))

    yt = [v for v in range(-200, 201, major) if ylim[0] <= v <= ylim[1]]
    ax.set_yticks(yt)
    ax.yaxis.set_minor_locator(MultipleLocator(minor))

    for s in ax.spines.values():
        s.set_color(SPINE)
        s.set_linewidth(1.0)
    ax.tick_params(axis="both", which="both", direction="in", top=True, right=True,
                   color=TICK, labelsize=12, labelcolor="black")
    ax.tick_params(axis="y", which="major", length=8, width=1.0, pad=4.3)
    ax.tick_params(axis="y", which="minor", length=3.6, width=0.9)
    ax.tick_params(axis="x", which="major", length=4.3, width=1.0, pad=5.8)
    ax.tick_params(axis="x", which="minor", length=2.2, width=0.9)

    for v, lab in zip(yt, ax.get_yticklabels()):
        if v == ylim[0]:
            lab.set_verticalalignment("bottom")
        elif v == ylim[1]:
            lab.set_verticalalignment("top")

    ax.set_ylabel(ylab, fontsize=12)
    ax.yaxis.set_label_coords(lx, ly)

fig.savefig("out.png", dpi=100)
